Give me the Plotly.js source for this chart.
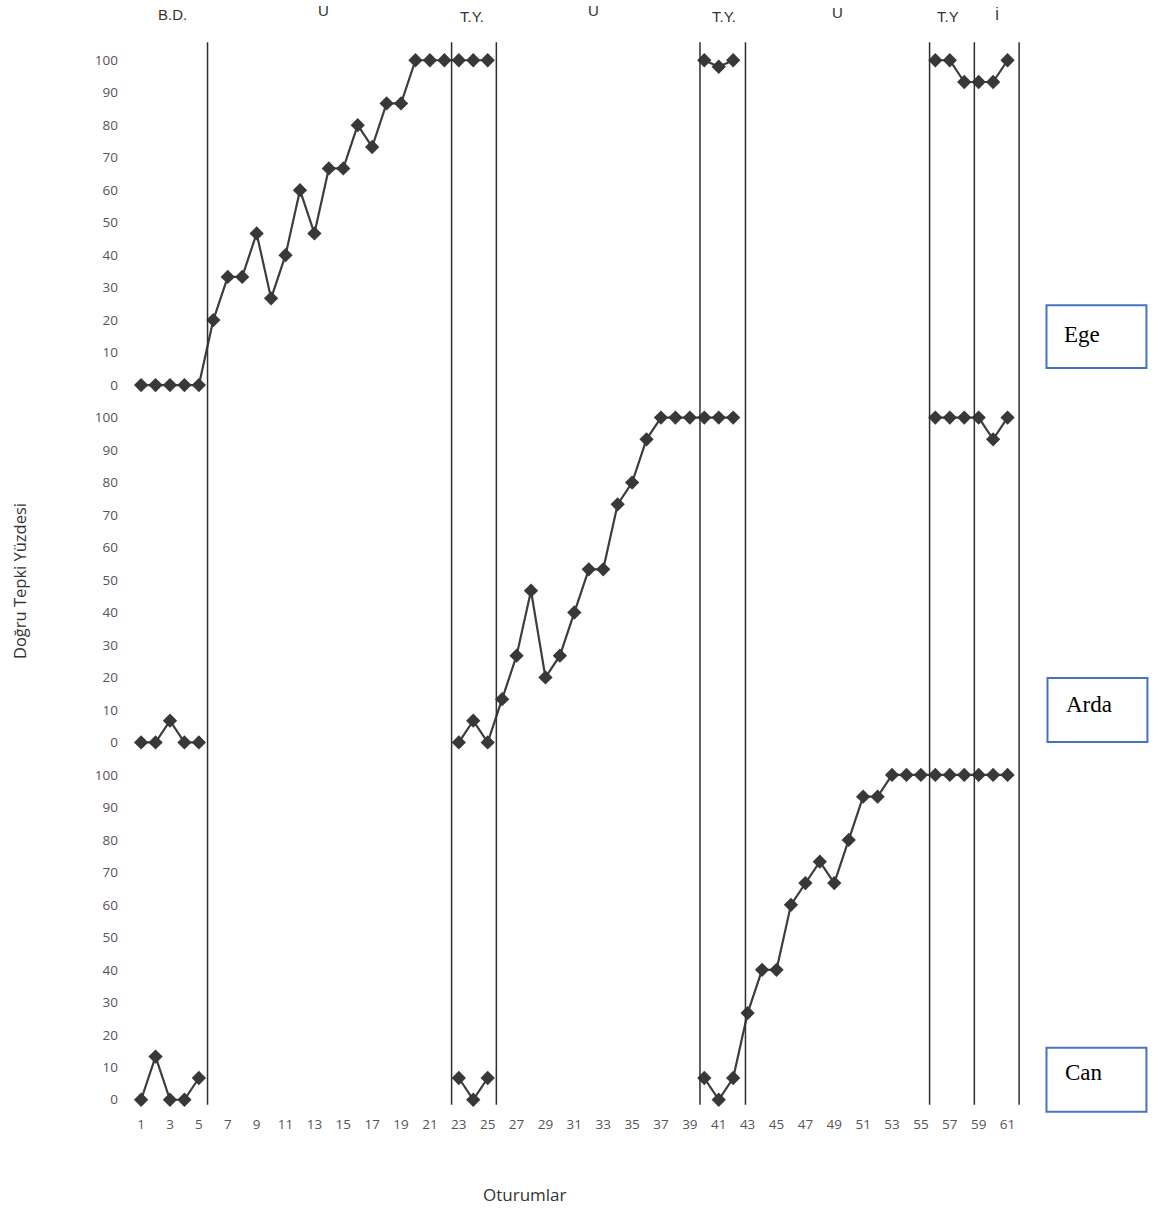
<!DOCTYPE html>
<html>
<head>
<meta charset="utf-8">
<script src="https://cdn.plot.ly/plotly-3.0.1.min.js"></script>
<style>html,body{margin:0;padding:0;background:#fff;}#chart{width:1165px;height:1211px;}</style>
</head>
<body>
<div id="chart"></div>
<script>
// Sessions (Oturumlar)
const sessions = [1,2,3,4,5,6,7,8,9,10,11,12,13,14,15,16,17,18,19,20,
  21,22,23,24,25,26,27,28,29,30,31,32,33,34,35,36,37,38,39,40,
  41,42,43,44,45,46,47,48,49,50,51,52,53,54,55,56,57,58,59,60,61];

// Ege: % correct responses per session (null = no session for this participant)
const ege = [0,0,0,0,0,
  20,33.3,33.3,46.7,26.7,40,60,46.7,66.7,66.7,80,73.3,86.7,86.7,100,100,100,
  100,100,100,
  null,null,null,null,null,null,null,null,null,null,null,null,null,null,
  100,98,100,
  null,null,null,null,null,null,null,null,null,null,null,null,null,
  100,100,93.3,93.3,93.3,100];

// Arda
const arda = [0,0,6.7,0,0,
  null,null,null,null,null,null,null,null,null,null,null,null,null,null,null,null,null,
  0,6.7,0,
  13.3,26.7,46.7,20,26.7,40,53.3,53.3,73.3,80,93.3,100,100,100,
  100,100,100,
  null,null,null,null,null,null,null,null,null,null,null,null,null,
  100,100,100,100,93.3,100];

// Can
const can = [0,13.3,0,0,6.7,
  null,null,null,null,null,null,null,null,null,null,null,null,null,null,null,null,null,
  6.7,0,6.7,
  null,null,null,null,null,null,null,null,null,null,null,null,null,null,
  6.7,0,6.7,
  26.7,40,40,60,66.7,73.3,66.7,80,93.3,93.3,100,100,100,
  100,100,100,100,100,100];

const xTickVals = [1,3,5,7,9,11,13,15,17,19,21,23,25,27,29,31,33,35,37,39,41,43,45,47,49,51,53,55,57,59,61];
const yTickVals = [0,10,20,30,40,50,60,70,80,90,100];

// Phase change lines (between sessions) and phase labels
const phaseLines = [5.6, 22.5, 25.6, 39.7, 42.85, 55.6, 58.7, 61.8];
const phaseLabels = ["B.D.", "U", "T.Y.", "U", "T.Y.", "U", "T.Y", "İ"];
const phaseLabelX = [3.14, 13.66, 23.9, 32.35, 41.35, 49.2, 56.85, 60.24];
const phaseLabelYpx = [14, 10, 16, 10, 16, 12, 16, 14];

const participants = ["Ege", "Arda", "Can"];

// Layout geometry (pixels)
const W = 1165, H = 1211;
const mL = 131, mR = 142.5, mT = 43.75, mB = 94.75;
const pw = W - mL - mR, ph = H - mT - mB;
const px2x = p => (p - mL) / pw;
const px2y = p => (H - mB - p) / ph;

const lineStyle = {color: '#3d3d3d', width: 2.2};
const markerStyle = {symbol: 'diamond', size: 11, color: '#383838'};

const traces = [
  {x: sessions, y: ege, yaxis: 'y', name: 'Ege'},
  {x: sessions, y: arda, yaxis: 'y2', name: 'Arda'},
  {x: sessions, y: can, yaxis: 'y3', name: 'Can'}
].map(t => Object.assign(t, {
  type: 'scatter', mode: 'lines+markers', xaxis: 'x',
  line: lineStyle, marker: markerStyle, connectgaps: false,
  cliponaxis: false, hoverinfo: 'x+y'
}));

const tickFont = {family: 'Open Sans, Liberation Sans, sans-serif', size: 13.5, color: '#555'};
const yBase = {
  range: [-5, 105], tickvals: yTickVals, ticktext: yTickVals.map(String),
  showgrid: false, zeroline: false, showline: false, ticks: '',
  tickfont: tickFont, ticklabelstandoff: 12, anchor: 'x', fixedrange: true
};

const shapes = phaseLines.map(v => ({
  type: 'line', xref: 'x', yref: 'paper', x0: v, x1: v,
  y0: px2y(1105), y1: px2y(42), line: {color: '#2e2e2e', width: 1.5}
}));

// Participant boxes
const boxPx = [[1047, 305, 1147, 368], [1048, 678, 1148, 742], [1047, 1048, 1147, 1112]];
const boxTextPx = [[1063, 334], [1065, 705], [1064, 1073]];
boxPx.forEach(b => shapes.push({
  type: 'rect', xref: 'paper', yref: 'paper',
  x0: px2x(b[0]), x1: px2x(b[2]), y0: px2y(b[3]), y1: px2y(b[1]),
  line: {color: '#4472C4', width: 2}, fillcolor: 'rgba(0,0,0,0)'
}));

const annotations = [];
phaseLabels.forEach((t, i) => annotations.push({
  text: t, xref: 'x', yref: 'paper', x: phaseLabelX[i], y: px2y(phaseLabelYpx[i]),
  showarrow: false, xanchor: 'center', yanchor: 'middle',
  font: {family: 'Liberation Sans, Arial, sans-serif', size: 15, color: '#333'}
}));
participants.forEach((p, i) => annotations.push({
  text: p, xref: 'paper', yref: 'paper', x: px2x(boxTextPx[i][0]), y: px2y(boxTextPx[i][1]),
  showarrow: false, xanchor: 'left', yanchor: 'middle',
  font: {family: 'Liberation Serif, Times New Roman, serif', size: 23, color: '#000'}
}));
annotations.push({
  text: 'Doğru Tepki Yüzdesi', xref: 'paper', yref: 'paper',
  x: px2x(20), y: px2y(581), textangle: -90, showarrow: false,
  xanchor: 'center', yanchor: 'middle',
  font: {family: 'Open Sans, Liberation Sans, sans-serif', size: 16.5, color: '#333'}
});
annotations.push({
  text: 'Oturumlar', xref: 'paper', yref: 'paper',
  x: px2x(525), y: px2y(1195), showarrow: false,
  xanchor: 'center', yanchor: 'middle',
  font: {family: 'Open Sans, Liberation Sans, sans-serif', size: 17, color: '#333'}
});

const layout = {
  width: W, height: H, showlegend: false,
  margin: {l: mL, r: mR, t: mT, b: mB, pad: 0},
  paper_bgcolor: '#fff', plot_bgcolor: '#fff',
  xaxis: {
    range: [0.3, 62], tickvals: xTickVals, ticktext: xTickVals.map(String),
    showgrid: false, zeroline: false, showline: false, ticks: '',
    tickfont: tickFont, anchor: 'y3', ticklabelstandoff: -2, fixedrange: true
  },
  yaxis: Object.assign({}, yBase, {domain: [2/3, 1]}),
  yaxis2: Object.assign({}, yBase, {domain: [1/3, 2/3]}),
  yaxis3: Object.assign({}, yBase, {domain: [0, 1/3]}),
  shapes: shapes, annotations: annotations
};

Plotly.newPlot('chart', traces, layout, {displayModeBar: false, staticPlot: true});
</script>
</body>
</html>
